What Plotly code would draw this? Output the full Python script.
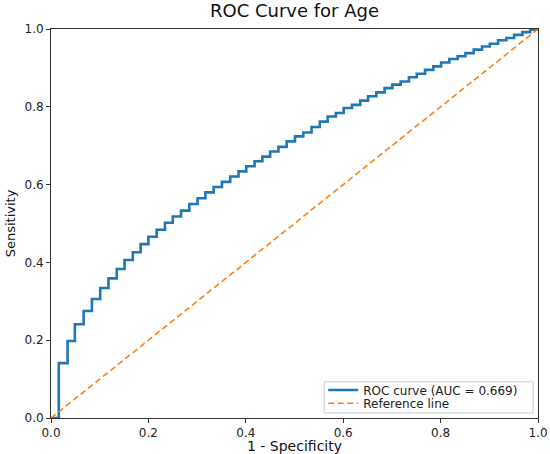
import plotly.graph_objects as go

# ROC curve (step points, drawn with 'hv' steps)
fpr = [0, 0.016, 0.034, 0.049, 0.067, 0.084, 0.101, 0.118, 0.135, 0.151, 0.168,
       0.184, 0.200, 0.217, 0.234, 0.250, 0.267, 0.284, 0.301, 0.317, 0.334,
       0.351, 0.368, 0.385, 0.401, 0.418, 0.434, 0.450, 0.467, 0.484, 0.501,
       0.518, 0.535, 0.552, 0.568, 0.585, 0.601, 0.618, 0.635, 0.651, 0.668,
       0.685, 0.701, 0.718, 0.735, 0.751, 0.768, 0.785, 0.801, 0.818, 0.835,
       0.851, 0.868, 0.885, 0.901, 0.918, 0.935, 0.951, 0.968, 0.984, 1.000]
tpr = [0, 0.141, 0.198, 0.241, 0.275, 0.306, 0.334, 0.359, 0.383, 0.406, 0.426,
       0.447, 0.466, 0.484, 0.502, 0.518, 0.533, 0.550, 0.565, 0.580, 0.594,
       0.607, 0.621, 0.634, 0.647, 0.660, 0.672, 0.685, 0.697, 0.711, 0.724,
       0.734, 0.748, 0.762, 0.775, 0.784, 0.797, 0.805, 0.816, 0.827, 0.837,
       0.848, 0.857, 0.865, 0.876, 0.885, 0.895, 0.904, 0.914, 0.923, 0.930,
       0.938, 0.947, 0.955, 0.962, 0.971, 0.977, 0.985, 0.992, 0.998, 1.000]
ref_x = [0, 1]
ref_y = [0, 1]
auc = 0.669
tick_vals = [0.0, 0.2, 0.4, 0.6, 0.8, 1.0]
tick_text = ["0.0", "0.2", "0.4", "0.6", "0.8", "1.0"]

FONT = "DejaVu Sans"

fig = go.Figure()
fig.add_trace(go.Scatter(
    x=fpr, y=tpr, mode="lines", line_shape="hv",
    line=dict(color="#1f77b4", width=2.6),
    name=f"ROC curve (AUC = {auc:.3f})", legend="legend",
))
fig.add_trace(go.Scatter(
    x=ref_x, y=ref_y, mode="lines",
    line=dict(color="#ff7f0e", width=1.6, dash="6px,3.5px"),
    name="Reference line", legend="legend2",
))

axis_common = dict(
    range=[0, 1], tickvals=tick_vals, ticktext=tick_text,
    showgrid=False, zeroline=False, showline=True, mirror=True,
    linecolor="#333333", linewidth=1, ticks="outside", ticklen=4,
    tickcolor="#333333", tickfont=dict(family=FONT, size=12, color="#222222"),
    automargin=False,
)

leg_common = dict(
    xanchor="left", yanchor="middle", x=0.559,
    bgcolor="rgba(0,0,0,0)", borderwidth=0,
    font=dict(family=FONT, size=12, color="#222222"),
)

fig.update_layout(
    width=550, height=454,
    margin=dict(l=51, r=12, t=29, b=36),
    paper_bgcolor="white", plot_bgcolor="white",
    title=dict(text="ROC Curve for Age", x=0.5355, xanchor="center",
               y=0.976, yanchor="middle",
               font=dict(family=FONT, size=18, color="#111111")),
    xaxis=dict(**axis_common,
               title=dict(text="1 - Specificity", standoff=5,
                          font=dict(family=FONT, size=14, color="#111111"))),
    yaxis=dict(**axis_common,
               title=dict(text="Sensitivity", standoff=5,
                          font=dict(family=FONT, size=13, color="#111111"))),
    legend=dict(**leg_common, y=0.072),
    legend2=dict(**leg_common, y=0.038),
    shapes=[dict(type="rect", xref="paper", yref="paper",
                 x0=0.561, x1=0.990, y0=0.013, y1=0.093,
                 line=dict(color="#cccccc", width=1),
                 fillcolor="rgba(255,255,255,0.85)", layer="above")],
    showlegend=True,
    hovermode=False,
)

fig.write_html("out.html",
               config={"displayModeBar": False, "staticPlot": True},
               post_script="document.body.style.margin='0';"
                           "document.body.style.overflow='hidden';")
